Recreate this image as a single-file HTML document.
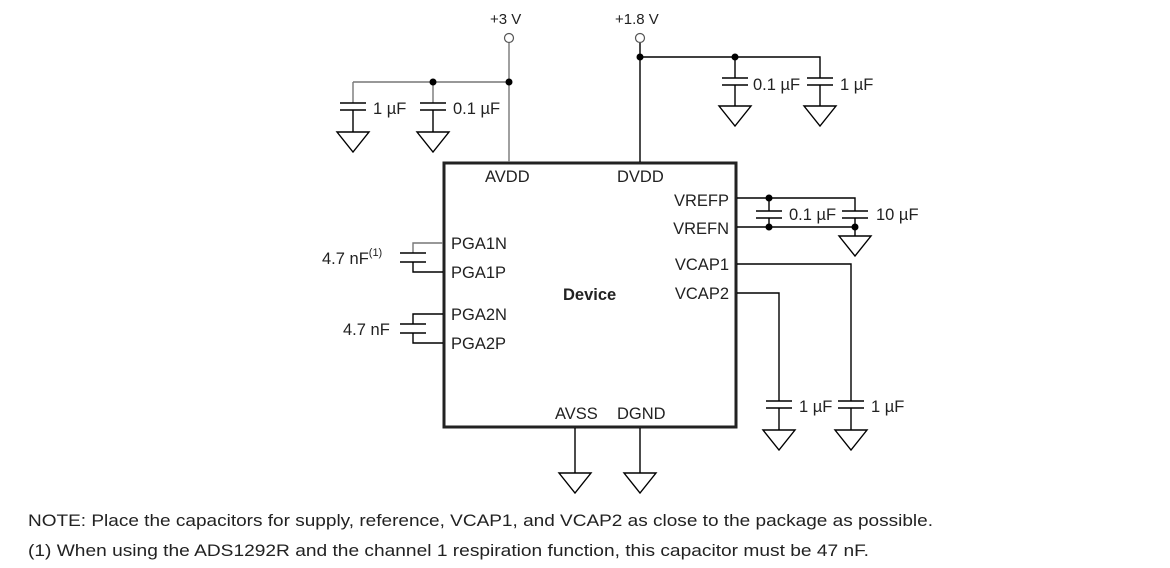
<!DOCTYPE html>
<html><head><meta charset="utf-8"><style>
body{margin:0;background:#fff;width:1170px;height:568px;overflow:hidden}
svg{display:block}
text{font-family:"Liberation Sans",Arial,sans-serif;font-size:16.5px;fill:#222}
.b{stroke:#000;stroke-width:1.4;fill:none}
.g{stroke:#777;stroke-width:1.4;fill:none}
</style></head><body>
<svg width="1170" height="568" viewBox="0 0 1170 568">
<defs>
<g id="gnd"><path d="M-16 0H16L0 20Z" class="b"/></g>
</defs>
<rect x="444" y="163" width="292" height="264" fill="none" stroke="#222" stroke-width="3"/>
<!-- +3V -->
<text x="490" y="24" style="font-size:15px">+3 V</text>
<circle cx="509" cy="38" r="4.5" fill="#fff" stroke="#555" stroke-width="1.2"/>
<path class="g" d="M509 43V162M353 82H509M353 82V103M433 82V103"/>
<circle cx="433" cy="82" r="3.5"/><circle cx="509" cy="82" r="3.5"/>
<path class="b" d="M340 103H366M340 110H366M353 110V132M420 103H446M420 110H446M433 110V132"/>
<use href="#gnd" x="353" y="132"/><use href="#gnd" x="433" y="132"/>
<text x="373" y="114">1 µF</text><text x="453" y="114">0.1 µF</text>
<!-- +1.8V -->
<text x="615" y="24" style="font-size:15px">+1.8 V</text>
<circle cx="640" cy="38" r="4.5" fill="#fff" stroke="#555" stroke-width="1.2"/>
<path class="b" d="M640 43V162M640 57H820V78M735 57V78"/>
<circle cx="640" cy="57" r="3.5"/><circle cx="735" cy="57" r="3.5"/>
<path class="b" d="M722 78H748M722 85H748M735 85V106M807 78H833M807 85H833M820 85V106"/>
<use href="#gnd" x="735" y="106"/><use href="#gnd" x="820" y="106"/>
<text x="753" y="90">0.1 µF</text><text x="840" y="90">1 µF</text>
<!-- labels in box -->
<text x="485" y="182">AVDD</text><text x="617" y="182">DVDD</text>
<text x="729" y="206" text-anchor="end">VREFP</text><text x="729" y="234" text-anchor="end">VREFN</text>
<text x="729" y="270" text-anchor="end">VCAP1</text><text x="729" y="299" text-anchor="end">VCAP2</text>
<text x="451" y="249">PGA1N</text><text x="451" y="278">PGA1P</text>
<text x="451" y="320">PGA2N</text><text x="451" y="349">PGA2P</text>
<text x="563" y="300" font-weight="bold">Device</text>
<text x="555" y="419">AVSS</text><text x="617" y="419">DGND</text>
<!-- VREF -->
<path class="b" d="M737 198H855V211M737 227H855V236M769 198V211M769 218V227M855 218V227"/>
<circle cx="769" cy="198" r="3.5"/><circle cx="769" cy="227" r="3.5"/><circle cx="855" cy="227" r="3.5"/>
<path class="b" d="M756 211H782M756 218H782M842 211H868M842 218H868"/>
<use href="#gnd" x="855" y="236"/>
<text x="789" y="220">0.1 µF</text><text x="876" y="220">10 µF</text>
<!-- VCAP -->
<path class="b" d="M737 264H851V401M737 293H779V401M779 408V430M851 408V430"/>
<path class="b" d="M766 401H792M766 408H792M838 401H864M838 408H864"/>
<use href="#gnd" x="779" y="430"/><use href="#gnd" x="851" y="430"/>
<text x="799" y="412">1 µF</text><text x="871" y="412">1 µF</text>
<!-- bottom grounds -->
<path class="b" d="M575 428V473M640 428V473"/>
<use href="#gnd" x="575" y="473"/><use href="#gnd" x="640" y="473"/>
<!-- PGA caps -->
<path class="g" d="M443 243H413V253"/>
<path class="b" d="M413 262V272H443M400 253H426M400 262H426"/>
<path class="b" d="M443 314H413V324M413 333V343H443M400 324H426M400 333H426"/>
<text x="322" y="264">4.7 nF<tspan dy="-8" style="font-size:11px">(1)</tspan></text>
<text x="343" y="335">4.7 nF</text>
<!-- notes -->
<text x="28" y="526" textLength="905" lengthAdjust="spacingAndGlyphs">NOTE: Place the capacitors for supply, reference, VCAP1, and VCAP2 as close to the package as possible.</text>
<text x="28" y="556" textLength="841" lengthAdjust="spacingAndGlyphs">(1) When using the ADS1292R and the channel 1 respiration function, this capacitor must be 47 nF.</text>
</svg>
</body></html>
